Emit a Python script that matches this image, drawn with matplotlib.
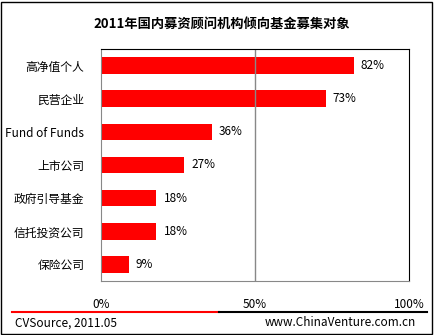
import matplotlib
matplotlib.use('Agg')
import matplotlib.pyplot as plt
from matplotlib.patches import Rectangle
from matplotlib.lines import Line2D

plt.rcParams['font.family'] = ['Noto Sans CJK SC', 'DejaVu Sans']

# 数据
categories = ['高净值个人', '民营企业', 'Fund of Funds', '上市公司', '政府引导基金', '信托投资公司', '保险公司']
values = [82, 73, 36, 27, 18, 18, 9]
xticks = [0, 50, 100]
xtick_labels = ['0%', '50%', '100%']

fig = plt.figure(figsize=(4.35, 3.35), dpi=100)
W, H = 435, 335

# 外框
fig.patches.append(Rectangle((1 / W, 1 / H), 431 / W, 332 / H, transform=fig.transFigure,
                             fill=False, edgecolor='black', linewidth=1))

ax = fig.add_axes([101 / W, 54 / H, 308 / W, 232 / H])
y = list(range(len(categories)))
ax.barh(y, values, height=0.5, color='#ff0000')
ax.set_ylim(len(categories) - 0.5, -0.5)
ax.set_xlim(0, 100)
ax.axvline(50, color='#888888', linewidth=1)

for i, v in enumerate(values):
    ax.text(v + 2.3, i, '%d%%' % v, va='center', ha='left', fontsize=8.5)

ax.set_yticks(y)
ax.set_yticklabels(categories, fontsize=8.5)
ax.tick_params(axis='y', length=0, pad=12)
ax.set_xticks(xticks)
ax.set_xticklabels(xtick_labels, fontsize=8.5)
ax.tick_params(axis='x', length=0, pad=12)
ax.spines['left'].set_color('#888888')
ax.spines['bottom'].set_color('#888888')
ax.spines['top'].set_color('black')
ax.spines['right'].set_color('black')

# 标题
fig.text(222 / W, 1 - 24 / H, '2011年国内募资顾问机构倾向基金募集对象', ha='center', va='center',
         fontsize=9.5, fontweight='bold')

# 底部分隔线
fig.add_artist(Line2D([12 / W, 219 / W], [1 - 312 / H, 1 - 312 / H], color='#ff0000', linewidth=1.5))
fig.add_artist(Line2D([219 / W, 427 / W], [1 - 312 / H, 1 - 312 / H], color='black', linewidth=1.5))

fig.text(15 / W, 1 - 323 / H, 'CVSource, 2011.05', ha='left', va='center', fontsize=8.5)
fig.text(416 / W, 1 - 323 / H, 'www.ChinaVenture.com.cn', ha='right', va='center', fontsize=8.5)

fig.savefig('out.png', dpi=100)
